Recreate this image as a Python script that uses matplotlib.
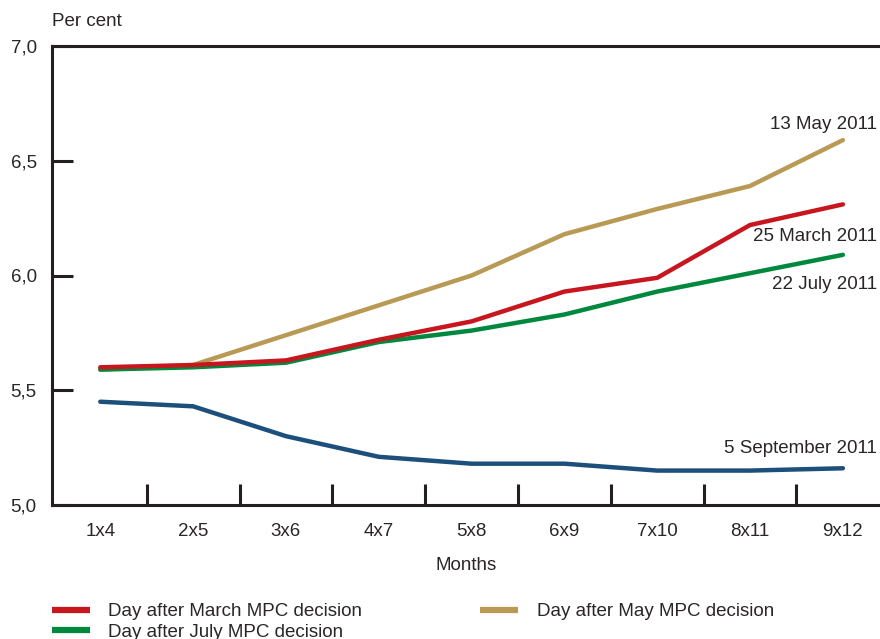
import matplotlib.pyplot as plt
from matplotlib.ticker import FixedLocator, FuncFormatter

plt.rcParams['font.family'] = ['Liberation Sans', 'DejaVu Sans']

# Forward rate tenors
tenors = ['1x4', '2x5', '3x6', '4x7', '5x8', '6x9', '7x10', '8x11', '9x12']

# FRA curves (per cent)
march = [5.60, 5.61, 5.63, 5.72, 5.80, 5.93, 5.99, 6.22, 6.31]
july = [5.59, 5.60, 5.62, 5.71, 5.76, 5.83, 5.93, 6.01, 6.09]
may = [5.59, 5.61, 5.74, 5.87, 6.00, 6.18, 6.29, 6.39, 6.59]
september = [5.45, 5.43, 5.30, 5.21, 5.18, 5.18, 5.15, 5.15, 5.16]

yticks = [5.0, 5.5, 6.0, 6.5, 7.0]

txt = '#2a2627'
fs = 13.5

fig = plt.figure(figsize=(8.8, 6.39), dpi=100)
ax = fig.add_axes([52 / 880, 1 - 505 / 639, 1 - 52 / 880, (505 - 46) / 639])

x = list(range(len(tenors)))
l_mar, = ax.plot(x, march, color='#c8161e', lw=3.2, solid_capstyle='round', zorder=4,
                 label='Day after March MPC decision')
l_jul, = ax.plot(x, july, color='#00893e', lw=3.2, solid_capstyle='round', zorder=3,
                 label='Day after July MPC decision')
l_may, = ax.plot(x, may, color='#b89a55', lw=3.2, solid_capstyle='round', zorder=2,
                 label='Day after May MPC decision')
ax.plot(x, september, color='#1c4f7c', lw=3.2, solid_capstyle='round', zorder=3)

ax.set_xlim(-0.52, 8.4)
ax.set_ylim(5.0, 7.0)

for s in ax.spines.values():
    s.set_linewidth(2.2)
    s.set_color('#231f20')
ax.spines['right'].set_visible(False)

ax.yaxis.set_major_locator(FixedLocator(yticks))
ax.yaxis.set_major_formatter(FuncFormatter(lambda v, p: f'{v:.1f}'.replace('.', ',')))
ax.tick_params(axis='y', direction='in', length=15, width=2.2, color='#231f20',
               labelsize=fs, labelcolor=txt, pad=11)

ax.set_xticks(x)
ax.set_xticklabels(tenors)
ax.set_xticks([i + 0.5 for i in x[:-1]], minor=True)
ax.tick_params(axis='x', which='major', length=0, labelsize=fs, labelcolor=txt, pad=13)
ax.tick_params(axis='x', which='minor', direction='in', length=15, width=2.2, color='#231f20')
ax.set_xlabel('Months', fontsize=fs, color=txt, labelpad=12)

fig.text(52 / 880, 1 - 22 / 639, 'Per cent', fontsize=fs, color=txt, va='center', ha='left')

# end labels
ax.text(8.37, 6.66, '13 May 2011', ha='right', va='center', fontsize=fs, color=txt)
ax.text(8.37, 6.17, '25 March 2011', ha='right', va='center', fontsize=fs, color=txt)
ax.text(8.37, 5.96, '22 July 2011', ha='right', va='center', fontsize=fs, color=txt)
ax.text(8.37, 5.245, '5 September 2011', ha='right', va='center', fontsize=fs, color=txt)

leg = fig.legend(handles=[l_mar, l_jul, l_may], ncol=2, loc='upper left',
                 bbox_to_anchor=(52 / 880, 1 - 603 / 639), frameon=False, fontsize=fs,
                 handlelength=2.0, handletextpad=1.0, columnspacing=6.3,
                 labelspacing=0.2, borderpad=0, borderaxespad=0, labelcolor=txt)
for h in leg.legend_handles:
    h.set_linewidth(4.5)
    h.set_solid_capstyle('butt')

fig.savefig('out.png', dpi=100)
